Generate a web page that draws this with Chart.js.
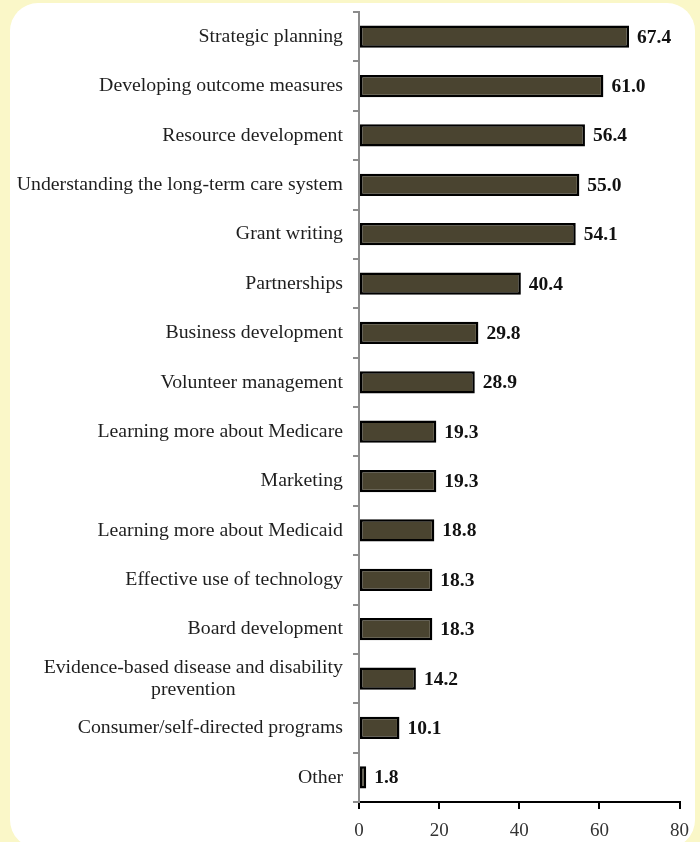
<!DOCTYPE html>
<html>
<head>
<meta charset="utf-8">
<script src="https://cdn.jsdelivr.net/npm/chart.js@4"></script>
<style>
  html, body { margin: 0; padding: 0; }
  body { width: 700px; height: 842px; background: #faf7c8; position: relative; overflow: hidden; }
  .panel { position: absolute; left: 10px; top: 3px; width: 685px; height: 845px; background: #fff; border-radius: 28px; }
  #wrap { position: absolute; left: 0; top: 0; width: 700px; height: 842px; }
</style>
</head>
<body>
<div class="panel"></div>
<div id="wrap"><canvas id="chart" width="700" height="842"></canvas></div>
<script>
const categories = [
  'Strategic planning',
  'Developing outcome measures',
  'Resource development',
  'Understanding the long-term care system',
  'Grant writing',
  'Partnerships',
  'Business development',
  'Volunteer management',
  'Learning more about Medicare',
  'Marketing',
  'Learning more about Medicaid',
  'Effective use of technology',
  'Board development',
  ['Evidence-based disease and disability', 'prevention'],
  'Consumer/self-directed programs',
  'Other'
];
const percents = [67.4, 61.0, 56.4, 55.0, 54.1, 40.4, 29.8, 28.9, 19.3, 19.3, 18.8, 18.3, 18.3, 14.2, 10.1, 1.8];
const xTicks = [0, 20, 40, 60, 80];

const SERIF = '"Liberation Serif", "DejaVu Serif", serif';

// category names drawn by hand so a two-line name sits centred as a block
const catLabels = {
  id: 'catLabels',
  afterDraw(chart) {
    const ctx = chart.ctx;
    const y = chart.scales.y;
    const right = y.right - 16;
    ctx.save();
    ctx.font = '19.8px ' + SERIF;
    ctx.fillStyle = '#1e1e1e';
    ctx.textBaseline = 'middle';
    categories.forEach((lab, i) => {
      const lines = Array.isArray(lab) ? lab : [lab];
      const widest = Math.max(...lines.map(l => ctx.measureText(l).width));
      const cy = y.getPixelForValue(i);
      ctx.textAlign = 'center';
      lines.forEach((l, j) => {
        ctx.fillText(l, right - widest / 2, cy + (j - (lines.length - 1) / 2) * 22);
      });
    });
    ctx.restore();
  }
};

// numbers at the end of each bar
const valueLabels = {
  id: 'valueLabels',
  afterDatasetsDraw(chart) {
    const ctx = chart.ctx;
    const meta = chart.getDatasetMeta(0);
    ctx.save();
    ctx.font = 'bold 19.5px ' + SERIF;
    ctx.fillStyle = '#111';
    ctx.textAlign = 'left';
    ctx.textBaseline = 'middle';
    meta.data.forEach((bar, i) => {
      ctx.fillText(percents[i].toFixed(1), bar.x + 8, bar.y + 1);
    });
    ctx.restore();
  }
};

new Chart(document.getElementById('chart'), {
  type: 'bar',
  data: {
    labels: categories.map(c => Array.isArray(c) ? c.join(' ') : c),
    datasets: [{
      data: percents,
      backgroundColor: '#4a4430',
      borderColor: '#000',
      borderWidth: 2.5,
      borderSkipped: false,
      barPercentage: 0.45,
      categoryPercentage: 1
    }]
  },
  options: {
    indexAxis: 'y',
    responsive: false,
    animation: false,
    layout: { padding: { top: 12, right: 20, left: 0, bottom: 0 } },
    plugins: { legend: { display: false }, tooltip: { enabled: false } },
    scales: {
      x: {
        min: 0,
        max: 80,
        afterBuildTicks: s => { s.ticks = xTicks.map(v => ({ value: v })); },
        afterFit: s => { s.height = 40; },
        border: { color: '#000', width: 2 },
        grid: { drawOnChartArea: false, drawTicks: true, tickLength: 7, color: '#000', lineWidth: 2 },
        ticks: { color: '#333', padding: 11, font: { family: SERIF, size: 19 } }
      },
      y: {
        afterFit: s => { s.width = 359; },
        border: { color: '#8c8c8c', width: 2 },
        grid: { drawOnChartArea: false, drawTicks: true, tickLength: 6, color: '#8c8c8c', lineWidth: 2, offset: true },
        ticks: { display: false }
      }
    }
  },
  plugins: [catLabels, valueLabels]
});
</script>
</body>
</html>
